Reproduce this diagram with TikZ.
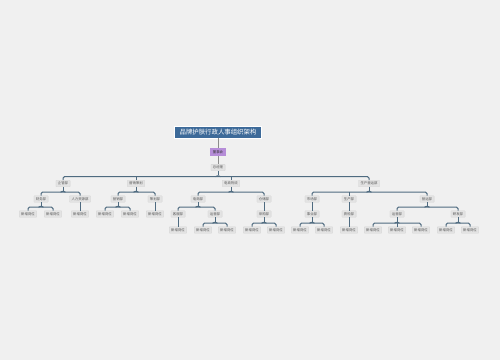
\documentclass[tikz,border=0pt]{standalone}
\usepackage{fontspec}
\newfontfamily\cjk{Noto Sans CJK SC}
\usetikzlibrary{calc}
\definecolor{bgc}{HTML}{F0F0F0}
\definecolor{nodefill}{HTML}{E3E3E3}
\definecolor{nodeline}{HTML}{D2D2D2}
\definecolor{txt}{HTML}{555555}
\definecolor{linec}{HTML}{4F6B80}
\definecolor{titlefill}{HTML}{3D6A99}
\definecolor{boardfill}{HTML}{B68DD8}
\newcommand\grp[3]{%
 \draw[conn] (#2.north) -- ++(0,-3.5) coordinate (tmpA) -| (#3.north);
 \coordinate (tmpP) at (#1.south |- tmpA);
 \draw[conn] (#1.south) -- ($(tmpP)+(0,-1.2)$);
 \draw[conn,rounded corners=0.8pt] ($(tmpP)+(-2.5,0)$) -- ($(tmpP)+(0,-1.2)$) -- ($(tmpP)+(2.5,0)$);
}
\newcommand\sgl[2]{\draw[conn] (#1.south) -- (#2.north);}
\newcommand\mdl[1]{\draw[conn] (#1.north) -- ++(0,-3.5);}
\begin{document}
\begin{tikzpicture}[x=1pt,y=-1pt,
  font={\cjk\fontsize{3.4pt}{4pt}\selectfont},
  box/.style={fill=nodefill,draw=nodeline,line width=0.3pt,inner xsep=2pt,inner ysep=1.6pt,text=txt,rounded corners=0.5pt},
  titlebox/.style={fill=titlefill,draw=white,line width=0.8pt,inner xsep=5pt,inner ysep=3pt,text=white,font={\cjk\fontsize{6.4pt}{7pt}\selectfont}},
  boardbox/.style={fill=boardfill,inner xsep=2.5pt,inner ysep=2.5pt,text=black!80},
  conn/.style={draw=linec,line width=1pt,rounded corners=1.5pt},
  thin/.style={draw=black!45,line width=0.6pt}]
\fill[bgc] (0,0) rectangle (500,360);
\useasboundingbox (0,0) rectangle (500,360);
% top
\node[titlebox] (t) at (218,132) {品牌护肤行政人事组织架构};
\node[boardbox] (b) at (218,152) {董事会};
\node[box] (g) at (218,167.5) {总经理};
\draw[thin] (t.south) -- (b.north);
\draw[thin] (b.south) -- (g.north);
% level 1
\node[box] (a1) at (63,183.5) {企管部};
\node[box] (a2) at (136,183.5) {营销策划};
\node[box] (a3) at (231,183.5) {电商物流};
\node[box] (a4) at (369,183.5) {生产营运部};
% level 2
\node[box] (b11) at (41,199) {财务部};
\node[box] (b12) at (80,199) {人力资源部};
\node[box] (b21) at (118,199) {营销部};
\node[box] (b22) at (155,199) {策划部};
\node[box] (b31) at (198,199) {电商部};
\node[box] (b32) at (264,199) {仓储部};
\node[box] (b41) at (312,199) {市场部};
\node[box] (b42) at (349,199) {生产部};
\node[box] (b43) at (427,199) {营运部};
% level 3
\node[box] (l1) at (28,214) {新增岗位};
\node[box] (l2) at (53,214) {新增岗位};
\node[box] (l3) at (80,214) {新增岗位};
\node[box] (l4) at (105,214) {新增岗位};
\node[box] (l5) at (130,214) {新增岗位};
\node[box] (l6) at (155,214) {新增岗位};
\node[box] (c311) at (178,214) {客服部};
\node[box] (c312) at (215,214) {运营部};
\node[box] (c321) at (264,214) {采购部};
\node[box] (c411) at (312,214) {事业部};
\node[box] (c421) at (349,214) {质检部};
\node[box] (c431) at (397,214) {运营部};
\node[box] (c432) at (458,214) {研发部};
% level 4
\node[box] (m1) at (178,230) {新增岗位};
\node[box] (m2) at (203,230) {新增岗位};
\node[box] (m3) at (227,230) {新增岗位};
\node[box] (m4) at (252,230) {新增岗位};
\node[box] (m5) at (276,230) {新增岗位};
\node[box] (m6) at (300,230) {新增岗位};
\node[box] (m7) at (324,230) {新增岗位};
\node[box] (m8) at (349,230) {新增岗位};
\node[box] (m9) at (373,230) {新增岗位};
\node[box] (m10) at (397,230) {新增岗位};
\node[box] (m11) at (421,230) {新增岗位};
\node[box] (m12) at (446,230) {新增岗位};
\node[box] (m13) at (470,230) {新增岗位};
% connectors
\grp{g}{a1}{a4} \mdl{a2} \mdl{a3}
\grp{a1}{b11}{b12}
\grp{a2}{b21}{b22}
\grp{a3}{b31}{b32}
\grp{a4}{b41}{b43} \mdl{b42}
\grp{b11}{l1}{l2}
\sgl{b12}{l3}
\grp{b21}{l4}{l5}
\sgl{b22}{l6}
\grp{b31}{c311}{c312}
\sgl{b32}{c321}
\sgl{b41}{c411}
\sgl{b42}{c421}
\grp{b43}{c431}{c432}
\sgl{c311}{m1}
\grp{c312}{m2}{m3}
\grp{c321}{m4}{m5}
\grp{c411}{m6}{m7}
\sgl{c421}{m8}
\grp{c431}{m9}{m11} \mdl{m10}
\grp{c432}{m12}{m13}
\end{tikzpicture}
\end{document}
